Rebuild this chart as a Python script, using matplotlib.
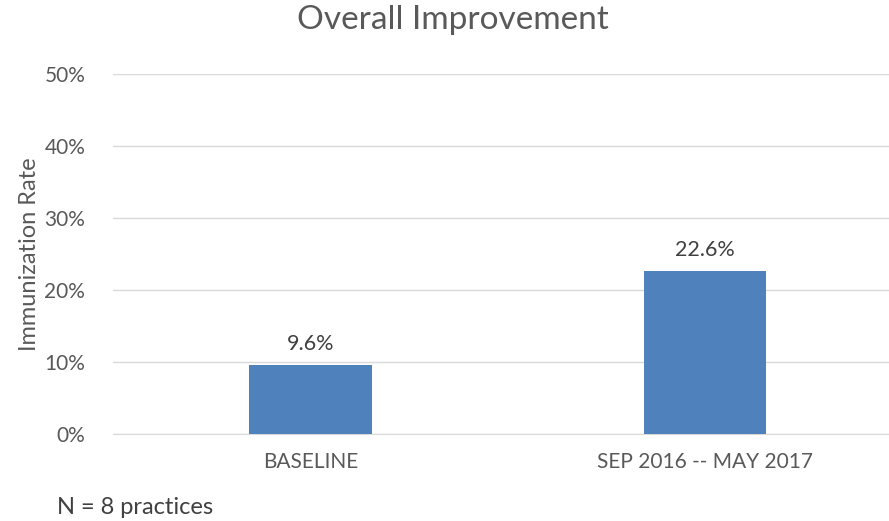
import matplotlib.pyplot as plt
from matplotlib.ticker import FuncFormatter

categories = ['BASELINE', 'SEP 2016 -- MAY 2017']
rates = [9.6, 22.6]
value_labels = ['9.6%', '22.6%']

plt.rcParams['font.family'] = ['Lato', 'DejaVu Sans']
gray = '#595959'

fig = plt.figure(figsize=(8.89, 5.21), dpi=100)
ax = fig.add_axes([113 / 889, 1 - 434 / 521, (889 - 113) / 889, (434 - 74) / 521])

x = range(len(categories))
ax.bar(x, rates, width=0.31, color='#4F81BD', zorder=3)
for xi, r, lab in zip(x, rates, value_labels):
    ax.text(xi, r + 1.5, lab, ha='center', va='bottom', fontsize=15.5, color='#404040')

ax.set_xlim(-0.5, 1.466)
ax.set_ylim(0, 50)
ax.set_yticks(range(0, 51, 10))
ax.yaxis.set_major_formatter(FuncFormatter(lambda v, p: '%d%%' % v))
ax.set_xticks(list(x))
ax.set_xticklabels(categories)
ax.tick_params(axis='both', length=0, labelsize=15, colors=gray)
ax.tick_params(axis='x', pad=13)
ax.tick_params(axis='y', pad=20)
ax.yaxis.grid(True, color='#D9D9D9', linewidth=1)
for s in ['top', 'right', 'left']:
    ax.spines[s].set_visible(False)
ax.spines['bottom'].set_color('#D9D9D9')

ax.set_ylabel('Immunization Rate', fontsize=17, color=gray, labelpad=3)
fig.text(453 / 889, 1 - 20 / 521, 'Overall Improvement', ha='center', va='center',
         fontsize=24, color=gray)
fig.text(57 / 889, 1 - 507 / 521, 'N = 8 practices', ha='left', va='center',
         fontsize=17, color='#404040')

fig.savefig('out.png')
